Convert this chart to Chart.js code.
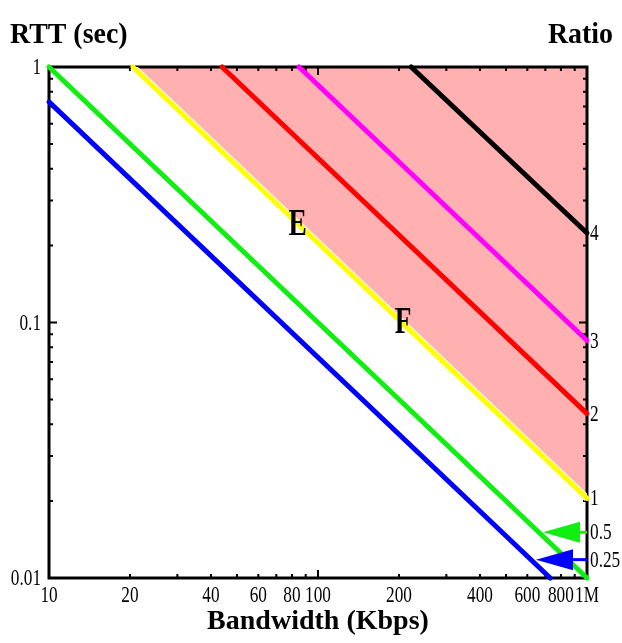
<!DOCTYPE html>
<html><head><meta charset="utf-8">
<script src="https://cdn.jsdelivr.net/npm/chart.js@4/dist/chart.umd.min.js"></script>
<style>html,body{margin:0;padding:0;background:#fff}#wrap{width:622px;height:643px}</style>
</head><body><div id="wrap"><canvas id="c" width="622" height="643"></canvas></div>
<script>
// ---- data ----
const seriesNames = ['0.25', '0.5', '1', '2', '3', '4'];
const seriesColors = ['#0000ff', '#11ee11', '#ffff00', '#ff0000', '#ff00ff', '#000000'];
const startBW  = [10, 10, 20.5, 44, 85, 222];
const startRTT = [0.73, 1, 1, 1, 1, 1];
const endBW    = [730, 1000, 1000, 1000, 1000, 1000];
const endRTT   = [0.01, 0.01, 0.0205, 0.044, 0.085, 0.224];

const xTickValues = [10, 20, 40, 60, 80, 100, 200, 400, 600, 800, 1000];
const xTickLabels = ['10', '20', '40', '60', '80', '100', '200', '400', '600', '800', '1M'];
const yTickValues = [0.01, 0.1, 1];
const yTickLabels = ['0.01', '0.1', '1'];
const ratioValues = [0.224, 0.085, 0.044, 0.0205, 0.0151, 0.0118];
const ratioLabels = ['4', '3', '2', '1', '0.5', '0.25'];

const arrowRTT    = [0.0151, 0.0118];
const arrowTipBW  = [686, 646];
const arrowBaseBW = [942, 887];
const arrowColors = ['#11ee11', '#0000ff'];

const regionLabels = ['E', 'F'];
const regionBW  = [84, 207];
const regionRTT = [0.241, 0.1005];

const minorMultipliers = [2, 3, 4, 5, 6, 7, 8, 9];
const SERIF = "'Liberation Serif', 'Times New Roman', serif";

// ---- datasets ----
const datasets = [];
datasets.push({
  label: 'region',
  data: [{x: startBW[2], y: startRTT[2]}, {x: endBW[2], y: endRTT[2]}],
  borderColor: '#ffffff', borderWidth: 7, backgroundColor: '#ffb0b0',
  fill: 'end', order: 10, pointRadius: 0, yAxisID: 'y'
});
seriesNames.forEach((n, i) => {
  datasets.push({
    label: n,
    data: [{x: startBW[i], y: startRTT[i]}, {x: endBW[i], y: endRTT[i]}],
    borderColor: seriesColors[i], borderWidth: 5, borderCapStyle: 'round',
    fill: false, pointRadius: 0, clip: false, order: 1, yAxisID: 'y'
  });
});

function condensedText(ctx, text, px, py, align, scaleX) {
  ctx.save();
  ctx.translate(px, py);
  ctx.scale(scaleX, 1);
  ctx.textAlign = align;
  ctx.fillText(text, 0, 0);
  ctx.restore();
}

const deco = {
  id: 'deco',
  beforeDatasetsDraw(chart) {
    const {ctx, chartArea: a, scales: {x, y}} = chart;
    ctx.save();
    ctx.strokeStyle = '#000';
    ctx.lineWidth = 2;
    [10, 100].forEach(d => {
      minorMultipliers.forEach(k => {
        const px = x.getPixelForValue(k * d);
        ctx.beginPath();
        ctx.moveTo(px, a.bottom); ctx.lineTo(px, a.bottom - 4);
        ctx.moveTo(px, a.top); ctx.lineTo(px, a.top + 4);
        ctx.stroke();
      });
    });
    const p100 = x.getPixelForValue(100);
    ctx.beginPath();
    ctx.moveTo(p100, a.bottom); ctx.lineTo(p100, a.bottom - 8);
    ctx.moveTo(p100, a.top); ctx.lineTo(p100, a.top + 8);
    ctx.stroke();
    [0.01, 0.1].forEach(d => {
      minorMultipliers.forEach(k => {
        const py = y.getPixelForValue(k * d);
        ctx.beginPath();
        ctx.moveTo(a.left, py); ctx.lineTo(a.left + 4, py);
        ctx.moveTo(a.right, py); ctx.lineTo(a.right - 4, py);
        ctx.stroke();
      });
    });
    const p01 = y.getPixelForValue(0.1);
    ctx.beginPath();
    ctx.moveTo(a.left, p01); ctx.lineTo(a.left + 8, p01);
    ctx.moveTo(a.right, p01); ctx.lineTo(a.right - 8, p01);
    ctx.stroke();
    ctx.lineWidth = 3;
    ctx.strokeRect(a.left, a.top, a.right - a.left, a.bottom - a.top);
    ctx.restore();
  },
  afterDatasetsDraw(chart) {
    const {ctx, chartArea: a, scales: {x, y}} = chart;
    ctx.save();
    arrowRTT.forEach((r, i) => {
      const py = y.getPixelForValue(r);
      const tip = x.getPixelForValue(arrowTipBW[i]);
      const base = x.getPixelForValue(arrowBaseBW[i]);
      ctx.fillStyle = arrowColors[i];
      ctx.strokeStyle = arrowColors[i];
      ctx.beginPath();
      ctx.moveTo(tip, py);
      ctx.lineTo(base, py - 10.5);
      ctx.lineTo(base, py + 10.5);
      ctx.closePath();
      ctx.fill();
      ctx.lineWidth = 3;
      ctx.beginPath();
      ctx.moveTo(base, py); ctx.lineTo(a.right, py);
      ctx.stroke();
    });
    ctx.fillStyle = '#000';
    ctx.font = 'bold 37px ' + SERIF;
    ctx.textBaseline = 'middle';
    regionLabels.forEach((t, i) => {
      condensedText(ctx, t, x.getPixelForValue(regionBW[i]), y.getPixelForValue(regionRTT[i]) + 1, 'center', 0.74);
    });
    ctx.restore();
  },
  afterDraw(chart) {
    const {ctx, chartArea: a, scales: {x, y, y2}} = chart;
    ctx.save();
    ctx.fillStyle = '#000';
    // tick labels, positioned by the scales
    ctx.font = '23px ' + SERIF;
    ctx.textBaseline = 'middle';
    xTickValues.forEach((v, i) => {
      condensedText(ctx, xTickLabels[i], x.getPixelForValue(v), a.bottom + 18, 'center', 0.75);
    });
    yTickValues.forEach((v, i) => {
      condensedText(ctx, yTickLabels[i], a.left - 8, y.getPixelForValue(v) + 1, 'right', 0.75);
    });
    ratioValues.forEach((v, i) => {
      condensedText(ctx, ratioLabels[i], a.right + 3, y2.getPixelForValue(v) + 1, 'left', 0.75);
    });
    // corner titles
    ctx.font = 'bold 30px ' + SERIF;
    ctx.textBaseline = 'alphabetic';
    condensedText(ctx, 'RTT (sec)', 10, 43, 'left', 0.93);
    condensedText(ctx, 'Ratio', 613, 43, 'right', 0.93);
    ctx.restore();
  }
};

new Chart(document.getElementById('c'), {
  type: 'line',
  data: {datasets},
  plugins: [deco],
  options: {
    responsive: false, animation: false, devicePixelRatio: 1,
    layout: {padding: {left: 0, right: 0, top: 67, bottom: 0}},
    plugins: {legend: {display: false}, tooltip: {enabled: false}, filler: {drawTime: 'beforeDatasetsDraw'}},
    elements: {point: {radius: 0}, line: {tension: 0}},
    scales: {
      x: {
        type: 'logarithmic', min: 10, max: 1000, position: 'bottom',
        grid: {display: false, drawTicks: false}, border: {display: false},
        afterBuildTicks: s => { s.ticks = xTickValues.map(v => ({value: v})); },
        ticks: {display: false, autoSkip: false, maxRotation: 0, callback: (v, i) => xTickLabels[i]},
        title: {display: true, text: 'Bandwidth (Kbps)', color: '#000',
          font: {family: SERIF, size: 28, weight: 'bold'}, padding: {top: 0, bottom: 4}},
        afterFit: s => { s.height = 65; }
      },
      y: {
        type: 'logarithmic', min: 0.01, max: 1, position: 'left',
        grid: {display: false, drawTicks: false}, border: {display: false},
        afterBuildTicks: s => { s.ticks = yTickValues.map(v => ({value: v})); },
        ticks: {display: false, autoSkip: false, callback: (v, i) => yTickLabels[i]},
        afterFit: s => { s.width = 49; }
      },
      y2: {
        type: 'logarithmic', min: 0.01, max: 1, position: 'right',
        grid: {display: false, drawTicks: false}, border: {display: false},
        afterBuildTicks: s => { s.ticks = ratioValues.map(v => ({value: v})); },
        ticks: {display: false, autoSkip: false, callback: (v, i) => ratioLabels[i]},
        afterFit: s => { s.width = 35; }
      }
    }
  }
});
</script>
</body></html>
